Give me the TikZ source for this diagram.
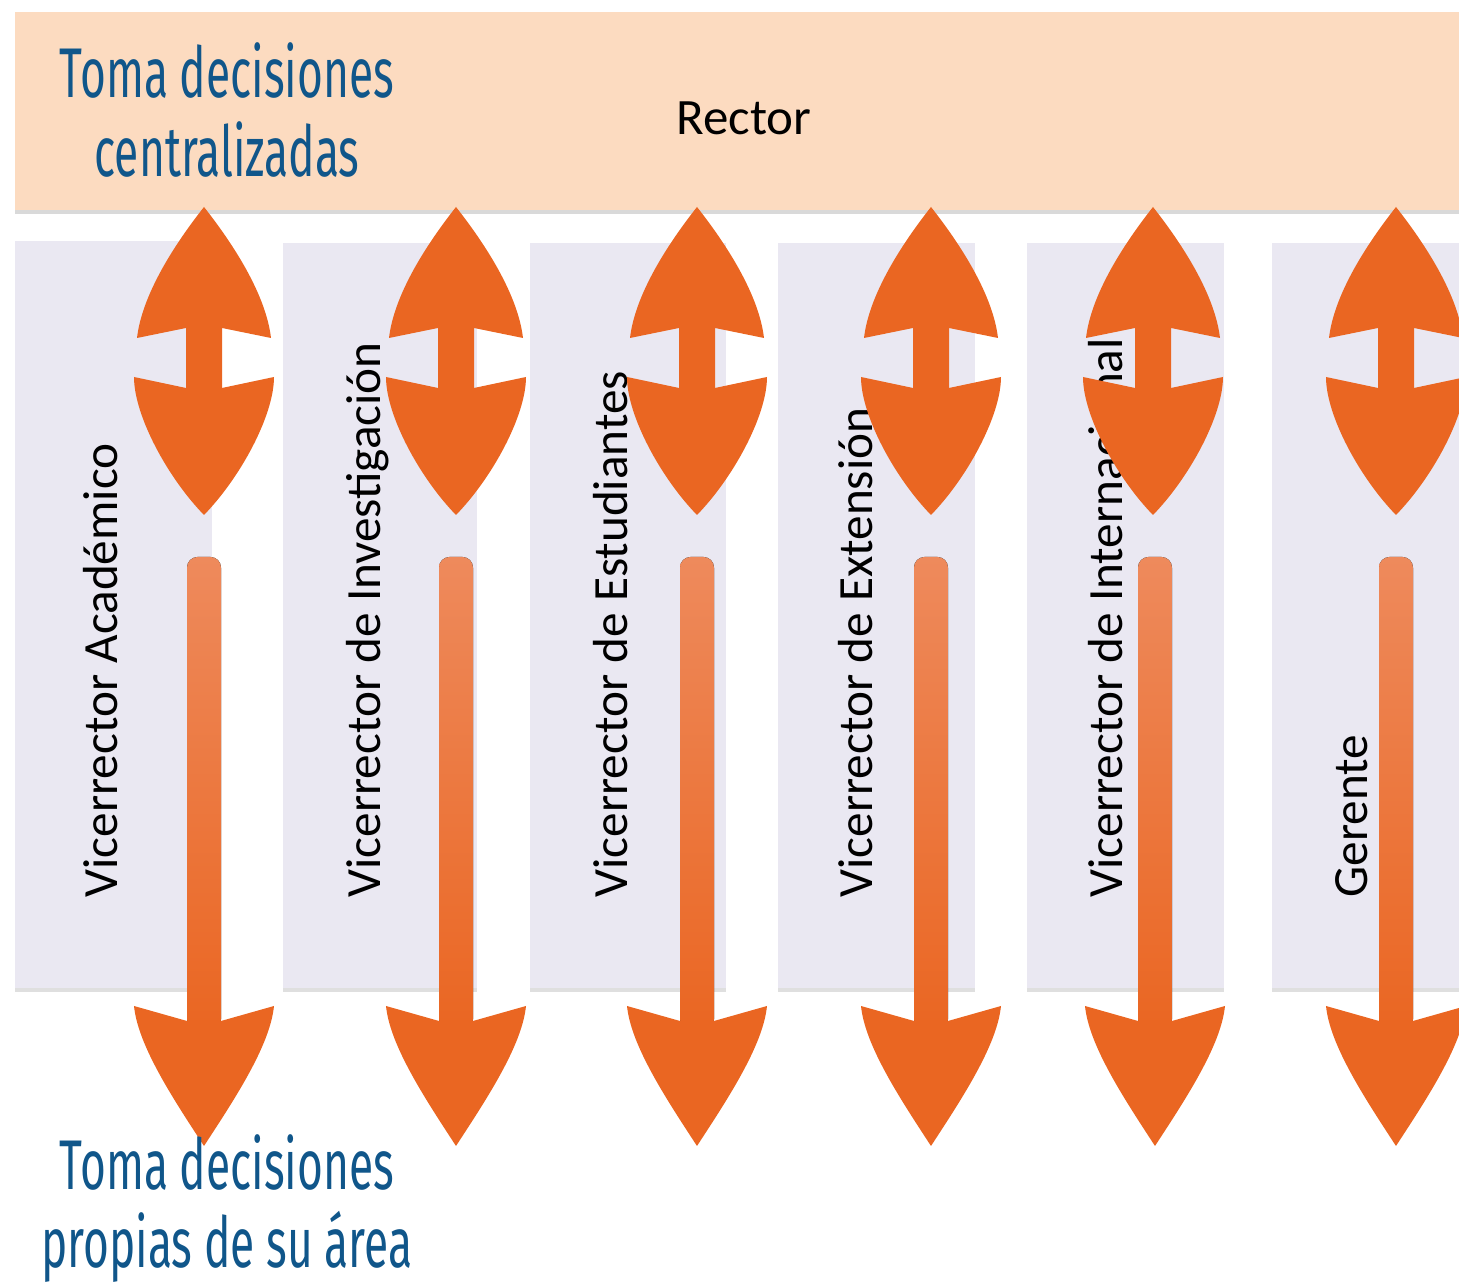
\documentclass[tikz,border=0pt]{standalone}
\usepackage{fontspec}
\setmainfont{Carlito}
\newfontfamily\condfont[FakeStretch=0.63]{Fira Sans}
\usetikzlibrary{shadows}

\definecolor{rectorbg}{RGB}{252,219,192}
\definecolor{colbg}{RGB}{234,232,242}
\definecolor{flecha}{RGB}{234,102,34}
\definecolor{flechaclara}{RGB}{238,138,92}
\definecolor{azul}{RGB}{16,86,138}

\begin{document}
\begin{tikzpicture}[x=0.01cm,y=-0.01cm,
  caja/.style={fill=colbg,drop shadow={shadow xshift=0pt,shadow yshift=-1.2pt,opacity=0.25}},
  etiqueta/.style={rotate=90,anchor=base west,inner sep=0pt,font=\fontsize{14}{16}\selectfont},
  titulo/.style={anchor=base,inner sep=0pt,text=azul,font=\condfont\fontsize{20}{23}\selectfont}]
\useasboundingbox (0,0) rectangle (1459,1283);
\clip (0,0) rectangle (1459,1283);

% Rector
\fill[rectorbg,drop shadow={shadow xshift=0pt,shadow yshift=-1.2pt,opacity=0.3}] (15,12) rectangle (1480,210);
\node (rector) at (744,135) [anchor=base,inner sep=0pt,font=\fontsize{14.5}{16}\selectfont] {Rector};
\node (centra) at (227,98) [titulo] {Toma decisiones};
\node (centrb) at (227,177) [titulo] {centralizadas};

% vicerrectorados
\fill[caja] (15,241) rectangle (212,988);
\fill[caja] (283,243) rectangle (477,988);
\fill[caja] (530,243) rectangle (726,988);
\fill[caja] (778,243) rectangle (975,988);
\fill[caja] (1027,243) rectangle (1224,988);
\fill[caja] (1272,243) rectangle (1480,988);

\node (vacad) at (117,898) [etiqueta] {Vicerrector Académico};
\node (vinv)  at (380,898) [etiqueta] {Vicerrector de Investigación};
\node (vest)  at (627,898) [etiqueta] {Vicerrector de Estudiantes};
\node (vext)  at (873,898) [etiqueta] {Vicerrector de Extensión};
\node (vint)  at (1122,898) [etiqueta] {Vicerrector de Internacional};
\node (ger)   at (1367,898) [etiqueta] {Gerente};

\def\dflecha#1{
  \fill[flecha] (#1,207)
    .. controls ({#1+30},245) and ({#1+62},295) .. ({#1+67},338)
    -- ({#1+18},328) -- ({#1+18},388) -- ({#1+70},377)
    .. controls ({#1+70},415) and ({#1+37},477) .. (#1,515)
    .. controls ({#1-37},477) and ({#1-70},415) .. ({#1-70},377)
    -- ({#1-18},388) -- ({#1-18},328) -- ({#1-67},338)
    .. controls ({#1-62},295) and ({#1-30},245) .. cycle;
}

\def\bflecha#1{
  \fill[top color=flechaclara,bottom color=flecha,rounded corners=3pt]
    ({#1-17},557) rectangle ({#1+17},1030);
  \fill[flecha] ({#1-17},1021) -- ({#1-70},1006)
    .. controls ({#1-66},1046) and ({#1-30},1100) .. (#1,1146)
    .. controls ({#1+30},1100) and ({#1+66},1046) .. ({#1+70},1006)
    -- ({#1+17},1021) -- cycle;
}

\dflecha{204}
\dflecha{456}
\dflecha{697}
\dflecha{931}
\dflecha{1153}
\dflecha{1396}

\bflecha{204}
\bflecha{456}
\bflecha{697}
\bflecha{931}
\bflecha{1155}
\bflecha{1396}

\node (propa) at (227,1190) [titulo] {Toma decisiones};
\node (propb) at (227,1268) [titulo] {propias de su área};

\end{tikzpicture}
\end{document}
